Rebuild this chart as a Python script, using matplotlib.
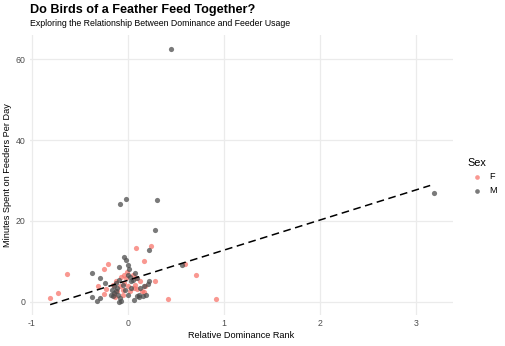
import matplotlib.pyplot as plt
import numpy as np

plt.rcParams['font.family'] = ['Liberation Sans', 'DejaVu Sans']
plt.rcParams['axes.unicode_minus'] = False

# female birds: relative dominance rank, minutes on feeders per day
f_rank = [0.08, 0.24, 0.17, -0.21, -0.25, -0.63, 0.60, 0.71, 0.92, 0.42,
          0.28, -0.31, -0.25, -0.73, -0.81, -0.23, -0.07, -0.04, -0.02, -0.04,
          -0.08, -0.05, 0.00, 0.02, 0.07, 0.10, 0.13, 0.15, 0.08, 0.05,
          -0.11, -0.14, -0.05, -0.16, -0.12, 0.18, 0.06, -0.13, 0.17, -0.01]
f_minutes = [13.2, 13.8, 10.0, 9.4, 8.0, 6.9, 9.4, 6.5, 0.7, 0.7,
             5.2, 4.0, 1.9, 2.2, 0.9, 3.2, 6.2, 6.7, 5.8, 4.6,
             4.0, 3.0, 3.8, 2.6, 4.2, 3.2, 5.0, 2.6, 5.8, 6.7,
             2.6, 1.7, 1.7, 4.2, 5.0, 3.8, 3.3, 1.2, 2.3, 7.3]

# male birds
m_rank = [0.45, 3.19, -0.08, -0.02, 0.30, 0.28, 0.22, -0.045, -0.02, 0.00,
          0.01, -0.37, 0.56, -0.29, -0.24, -0.37, -0.32, -0.29, -0.09, 0.06,
          0.09, 0.12, 0.19, 0.22, 0.21, 0.07, 0.02, -0.18, -0.14,
          -0.14, -0.11, -0.12, -0.10, -0.08, -0.07, -0.12, -0.09, -0.05, -0.03,
          0.00, 0.03, 0.03, 0.05, 0.00, 0.10, 0.13, 0.16, 0.12, 0.17,
          -0.16, -0.17, -0.09]
m_minutes = [62.6, 26.9, 24.1, 25.4, 25.1, 17.7, 12.8, 11.1, 10.2, 9.2,
             8.1, 7.0, 9.0, 5.9, 4.6, 1.2, 0.2, 1.0, 0.0, 0.5,
             1.5, 1.2, 1.7, 5.1, 4.4, 7.1, 6.0, 1.6, 2.2,
             3.8, 3.4, 2.6, 1.7, 0.9, 0.1, 4.6, 5.4, 4.2, 3.0,
             1.7, 3.4, 5.0, 5.4, 6.7, 5.8, 3.5, 1.3, 1.7, 3.8,
             1.3, 3.0, 8.7]

# linear trend
trend_slope = 7.45
trend_intercept = 5.3

fig = plt.figure(figsize=(5.05, 3.46), dpi=100)
ax = fig.add_axes([0.0594, 0.0896, 0.838, 0.809])

ax.scatter(f_rank, f_minutes, s=14, color='#F8766D', alpha=0.75,
           linewidths=0, label='F', zorder=3)
ax.scatter(m_rank, m_minutes, s=14, color='#4D4D4D', alpha=0.75,
           linewidths=0, label='M', zorder=3)

all_x = np.array(f_rank + m_rank)
xs = np.array([all_x.min(), all_x.max() - 0.04])
ax.plot(xs, trend_intercept + trend_slope * xs, color='black', lw=1.1,
        dashes=(5, 3), zorder=4)

ax.set_xlim(-1.02, 3.39)
ax.set_ylim(-3.3, 66.0)
ax.set_xticks([-1, 0, 1, 2, 3])
ax.set_yticks([0, 20, 40, 60])
ax.grid(True, color='#EBEBEB', lw=0.9)
ax.set_axisbelow(True)
for s in ax.spines.values():
    s.set_visible(False)
ax.tick_params(length=0, labelsize=6.3, labelcolor='#4D4D4D', pad=3)

ax.set_xlabel('Relative Dominance Rank', fontsize=6.6, labelpad=2)
ax.set_ylabel('Minutes Spent on Feeders Per Day', fontsize=6.6, labelpad=3)

fig.text(0.060, 0.970, 'Do Birds of a Feather Feed Together?',
         fontsize=9.1, fontweight='bold', va='center')
fig.text(0.060, 0.932, 'Exploring the Relationship Between Dominance and Feeder Usage',
         fontsize=6.35, va='center')

leg = ax.legend(title='Sex', loc='center left', bbox_to_anchor=(1.015, 0.495),
                frameon=False, fontsize=6.6, title_fontsize=7.8,
                handletextpad=0.3, markerscale=0.9, alignment='left',
                labelspacing=0.5)

fig.savefig('out.png', dpi=100)
